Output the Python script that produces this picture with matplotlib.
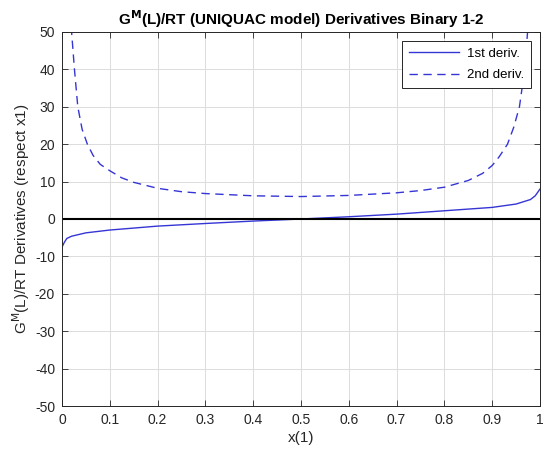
import matplotlib
matplotlib.use("Agg")
import matplotlib.pyplot as plt

plt.rcParams['font.family'] = ['Liberation Sans', 'DejaVu Sans']
plt.rcParams['axes.unicode_minus'] = False

# 1st derivative samples
x_d1 = [0.0, 0.005, 0.01, 0.02, 0.05, 0.1, 0.2, 0.3, 0.4, 0.5, 0.6, 0.7, 0.8, 0.9, 0.95, 0.98, 0.99, 1.0]
y_d1 = [-7.5, -6.2, -5.2, -4.6, -3.7, -2.95, -1.9, -1.2, -0.55, 0.0, 0.6, 1.3, 2.2, 3.1, 4.0, 5.2, 6.2, 8.0]

# 2nd derivative samples
x_d2 = [0.015, 0.02, 0.026, 0.033, 0.042, 0.053, 0.065, 0.08, 0.1, 0.125, 0.15, 0.2, 0.25, 0.3, 0.4, 0.5,
        0.6, 0.7, 0.75, 0.8, 0.85, 0.88, 0.9, 0.915, 0.932, 0.945, 0.957, 0.968, 0.974, 0.98]
y_d2 = [62, 50, 40, 30, 24, 20, 17, 14.6, 12.9, 11.0, 9.8, 8.2, 7.3, 6.8, 6.2, 6.0,
        6.3, 7.0, 7.6, 8.5, 10.3, 12.2, 14.3, 16.7, 20, 24.5, 30, 40, 50, 62]

labels = ['1st deriv.', '2nd deriv.']
title = r'G$^{\mathbf{M}}$(L)/RT (UNIQUAC model) Derivatives Binary 1-2'
ylabel = r'G$^{\rm M}$(L)/RT Derivatives (respect x1)'
xlabel = 'x(1)'

fig = plt.figure(figsize=(5.46, 4.63), dpi=100)
ax = fig.add_axes([0.1136, 0.123, 0.8754, 0.808])

col = '#3535d6'
ax.plot(x_d1, y_d1, color=col, lw=1.0, label=labels[0])
ax.plot(x_d2, y_d2, color=col, lw=1.0, ls=(0, (6, 4)), label=labels[1])
ax.axhline(0, color='black', lw=1.5)

ax.set_xlim(0, 1)
ax.set_ylim(-50, 50)
ax.set_xticks([i / 10 for i in range(11)])
ax.set_xticklabels(['0', '0.1', '0.2', '0.3', '0.4', '0.5', '0.6', '0.7', '0.8', '0.9', '1'])
ax.set_yticks(range(-50, 51, 10))
ax.grid(True, color='#dcdcdc', lw=0.7)
ax.set_axisbelow(True)
ax.tick_params(direction='in', top=True, right=True, labelsize=10, colors='#262626',
               length=4, width=0.6, pad=5)
for s in ax.spines.values():
    s.set_color('#262626')
    s.set_linewidth(0.7)

ax.set_title(title, fontsize=11, fontweight='bold', pad=5)
ax.set_xlabel(xlabel, fontsize=11, color='#262626', labelpad=3)
ax.set_ylabel(ylabel, fontsize=11, color='#262626', labelpad=2)

leg = ax.legend(loc='upper right', fontsize=9.5, fancybox=False, framealpha=1,
                edgecolor='#262626', handlelength=3.8, borderaxespad=0.7,
                handletextpad=0.6, labelspacing=0.7, borderpad=0.5)
leg.get_frame().set_linewidth(0.7)

fig.savefig('out.png', dpi=100)
